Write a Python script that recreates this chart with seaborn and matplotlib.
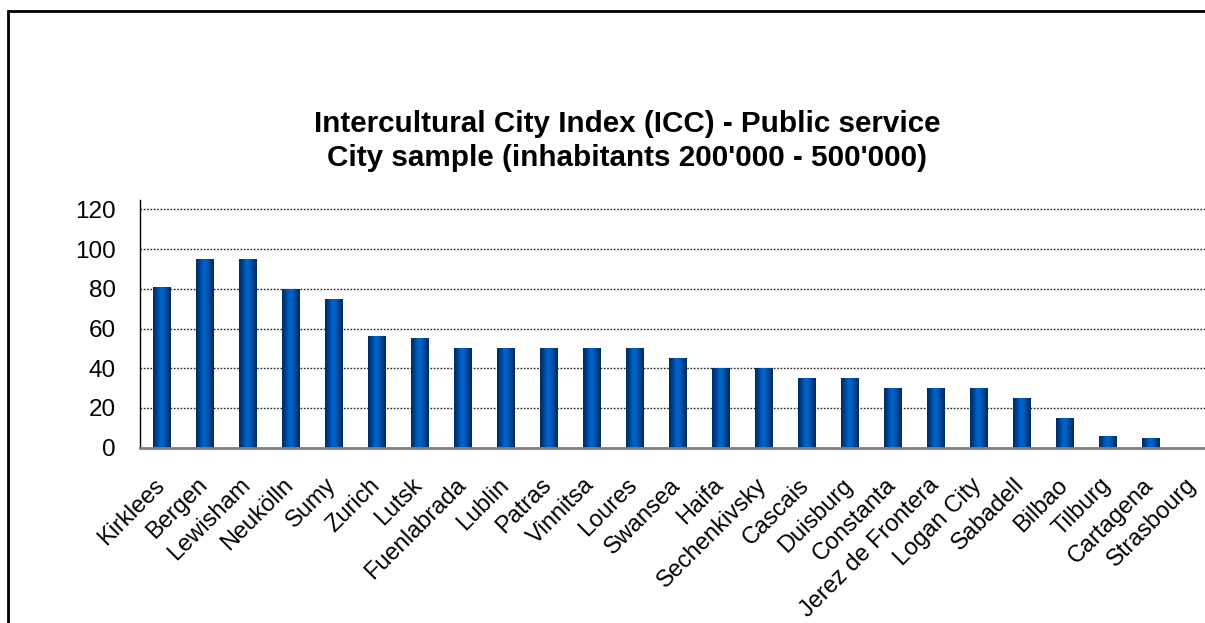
import numpy as np
import pandas as pd
import matplotlib
matplotlib.use("Agg")
import matplotlib.pyplot as plt
import seaborn as sns
from matplotlib.colors import LinearSegmentedColormap
from matplotlib.patches import Rectangle
from matplotlib.ticker import FixedLocator
from matplotlib.transforms import ScaledTranslation

# Public service index per city
cities = ["Kirklees", "Bergen", "Lewisham", "Neukölln", "Sumy", "Zurich", "Lutsk",
          "Fuenlabrada", "Lublin", "Patras", "Vinnitsa", "Loures", "Swansea", "Haifa",
          "Sechenkivsky", "Cascais", "Duisburg", "Constanta", "Jerez de Frontera",
          "Logan City", "Sabadell", "Bilbao", "Tilburg", "Cartagena", "Strasbourg"]
scores = [81, 95, 95, 80, 75, 56, 55, 50, 50, 50, 50, 50, 45, 40, 40, 35, 35,
          30, 30, 30, 25, 15, 6, 5, 0]
y_ticks = [0, 20, 40, 60, 80, 100, 120]
title_lines = ["Intercultural City Index (ICC) - Public service",
               "City sample (inhabitants 200'000 - 500'000)"]

sns.set_theme(style="white")
plt.rcParams["font.family"] = ["Liberation Sans", "DejaVu Sans"]

W, H = 1205, 623
fig = plt.figure(figsize=(W / 100, H / 100), dpi=100)
fig.patch.set_facecolor("white")

# plot area in pixel terms (extends a little past the right edge)
x0, x1, y_base, y_top = 140, 1215, 447.7, 200
ax = fig.add_axes([x0 / W, 1 - y_base / H, (x1 - x0) / W, (y_base - y_top) / H])

df = pd.DataFrame({"city": cities, "score": scores})
sns.barplot(data=df, x="city", y="score", ax=ax, width=0.41, color="#0058b8",
            saturation=1, edgecolor="none", errorbar=None, zorder=3)

# cylinder-like shading on every bar
shade = LinearSegmentedColormap.from_list(
    "cyl", [(0.0, "#002a5e"), (0.18, "#003f88"), (0.42, "#0064cc"),
            (0.58, "#005fc4"), (0.82, "#003f88"), (1.0, "#002a5e")])
grad = np.linspace(0, 1, 64).reshape(1, -1)
for bar in ax.patches:
    bx, by = bar.get_x(), bar.get_y()
    bw, bh = bar.get_width(), bar.get_height()
    if bh <= 0:
        continue
    im = ax.imshow(grad, cmap=shade, aspect="auto", interpolation="bicubic",
                   extent=(bx, bx + bw, by, by + bh), zorder=4)
    im.set_clip_path(bar)

n = len(cities)
ax.set_xlim(-0.5, n - 0.5)
ax.set_ylim(0, 124.7)
ax.set_yticks(y_ticks)
ax.set_yticklabels([str(v) for v in y_ticks], fontsize=17.5)
ax.set_xticks(range(n))
ax.set_xticklabels(cities, rotation=45, ha="right", rotation_mode="anchor", fontsize=17)
ax.xaxis.set_minor_locator(FixedLocator(np.arange(-0.5, n, 1.0)))
ax.tick_params(axis="x", which="major", length=0, pad=19, colors="black")
ax.tick_params(axis="x", which="minor", length=8, width=1.2, color="#555555", direction="out")
ax.tick_params(axis="y", which="major", length=8, width=1, color="black", direction="out",
               pad=9.5, labelcolor="black")
ax.set_xlabel("")
ax.set_ylabel("")

# nudge the slanted category labels a little to the left
shift = ScaledTranslation(-8 / 100, 0, fig.dpi_scale_trans)
for lbl in ax.get_xticklabels():
    lbl.set_transform(lbl.get_transform() + shift)

ax.yaxis.grid(True, linestyle=(0, (1.2, 1.2)), color="#222222", linewidth=1.0, zorder=1)
ax.xaxis.grid(False)
ax.set_axisbelow(True)

for side in ["top", "right"]:
    ax.spines[side].set_visible(False)
ax.spines["left"].set_color("black")
ax.spines["left"].set_linewidth(1.0)
ax.spines["bottom"].set_color("#808080")
ax.spines["bottom"].set_linewidth(2.0)
ax.spines["bottom"].set_zorder(5)

# titles
fig.text(627 / W, 1 - 124 / H, title_lines[0], ha="center", va="center",
         fontsize=21.3, fontweight="bold", color="black")
fig.text(627 / W, 1 - 158 / H, title_lines[1], ha="center", va="center",
         fontsize=21.3, fontweight="bold", color="black")

# chart-area frame
fig.patches.append(Rectangle((8.3 / W, -0.2), 1.5, 1.2 - 11 / H, transform=fig.transFigure,
                             fill=False, edgecolor="black", linewidth=2.0))

fig.savefig("out.png", dpi=100)
